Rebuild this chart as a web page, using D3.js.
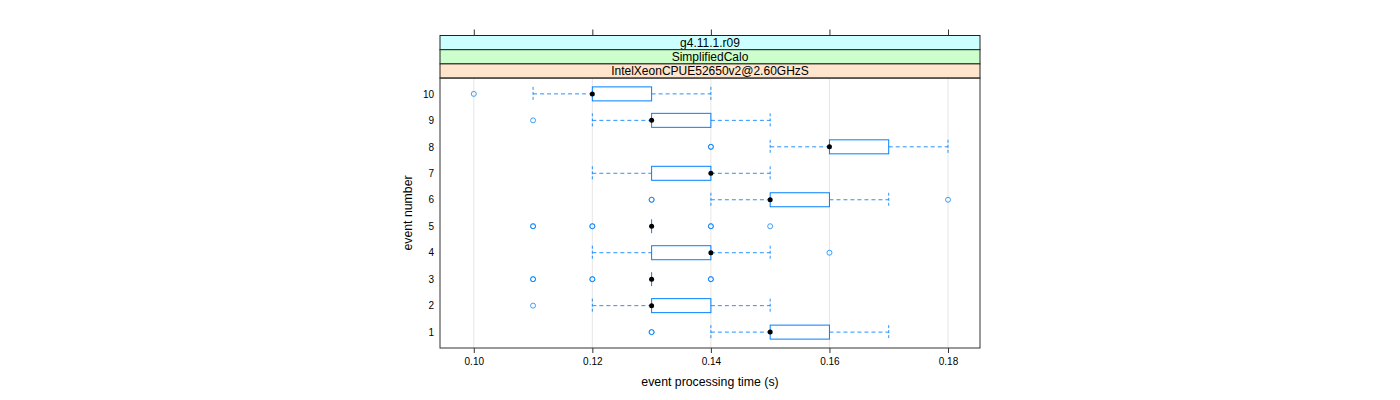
<!DOCTYPE html>
<html><head><meta charset="utf-8">
<script src="https://cdn.jsdelivr.net/npm/d3@7"></script>
<style>body{margin:0;background:#fff}svg{display:block}text{font-family:"Liberation Sans",Arial,sans-serif}</style>
</head><body><svg id="c" width="1400" height="400"></svg>
<script>
const events = [1,2,3,4,5,6,7,8,9,10];
const whiskLo = [0.14,0.12,0.13,0.12,0.13,0.14,0.12,0.15,0.12,0.11];
const q1      = [0.15,0.13,0.13,0.13,0.13,0.15,0.13,0.16,0.13,0.12];
const median  = [0.15,0.13,0.13,0.14,0.13,0.15,0.14,0.16,0.13,0.12];
const q3      = [0.16,0.14,0.13,0.14,0.13,0.16,0.14,0.17,0.14,0.13];
const whiskHi = [0.17,0.15,0.13,0.15,0.13,0.17,0.15,0.18,0.15,0.14];
const outliers = [[0.13,0.13],[0.11],[0.11,0.11,0.12,0.12,0.14,0.14],[0.16],[0.11,0.11,0.12,0.12,0.14,0.14,0.15],[0.13,0.13,0.18],[],[0.14,0.14],[0.11],[0.10]];
const xTicks = [0.10,0.12,0.14,0.16,0.18];
const strips = ["g4.11.1.r09","SimplifiedCalo","IntelXeonCPUE52650v2@2.60GHzS"];
const stripColors = ["#ccffff","#ccffcc","#ffe5cc"];

const svg = d3.select("#c");
const L=440,R=980,T=78,B=348;
const x = d3.scaleLinear().domain([0.0943,0.1854]).range([L,R]);
const y = d3.scaleLinear().domain([0.4,10.6]).range([B,T]);
const blue="#0080ff";
const bh=7;

// grid
svg.append("g").selectAll("line").data(xTicks).join("line")
 .attr("x1",d=>x(d)).attr("x2",d=>x(d)).attr("y1",T).attr("y2",B)
 .attr("stroke","#e6e6e6").attr("stroke-width",1);

// strips
const sh=14.2, st=35.5;
strips.forEach((s,i)=>{
  svg.append("rect").attr("x",L).attr("y",st+i*sh).attr("width",R-L).attr("height",sh)
   .attr("fill",stripColors[i]).attr("stroke","#222").attr("stroke-width",1);
  svg.append("text").attr("x",(L+R)/2).attr("y",st+i*sh+sh/2+4.3).attr("text-anchor","middle")
   .attr("font-size",12).attr("fill","#000").text(s);
});

// top & bottom axis ticks
const topAx = svg.append("g").attr("transform",`translate(0,${st})`)
 .call(d3.axisTop(x).tickValues(xTicks).tickSize(6).tickFormat(""));
topAx.select(".domain").remove();
topAx.selectAll("line").attr("stroke","#333");
const bot = svg.append("g").attr("transform",`translate(0,${B})`)
 .call(d3.axisBottom(x).tickValues(xTicks).tickSize(5).tickPadding(5).tickFormat(d3.format(".2f")));
bot.select(".domain").remove();
bot.selectAll("line").attr("stroke","#333");
bot.selectAll("text").attr("font-size",10).attr("fill","#000").attr("font-family","Liberation Sans, Arial, sans-serif");

// y labels
const yl = svg.append("g").attr("transform",`translate(${L},0)`)
 .call(d3.axisLeft(y).tickValues(events).tickSize(0).tickPadding(6).tickFormat(d3.format("d")));
yl.select(".domain").remove();
yl.selectAll("text").attr("font-size",10).attr("fill","#000").attr("font-family","Liberation Sans, Arial, sans-serif");

// boxes
const g = svg.append("g");
events.forEach((e,i)=>{
  const cy=y(e);
  const dash="4,3";
  const capDash="3,2";
  if (whiskLo[i]<q1[i]) {
    g.append("line").attr("x1",x(whiskLo[i])).attr("x2",x(q1[i])).attr("y1",cy).attr("y2",cy)
     .attr("stroke",blue).attr("stroke-dasharray",dash).attr("stroke-opacity",0.85);
    g.append("line").attr("x1",x(whiskLo[i])).attr("x2",x(whiskLo[i])).attr("y1",cy-bh).attr("y2",cy+bh)
     .attr("stroke",blue).attr("stroke-dasharray",capDash).attr("stroke-opacity",0.85);
  }
  if (whiskHi[i]>q3[i]) {
    g.append("line").attr("x1",x(q3[i])).attr("x2",x(whiskHi[i])).attr("y1",cy).attr("y2",cy)
     .attr("stroke",blue).attr("stroke-dasharray",dash).attr("stroke-opacity",0.85);
    g.append("line").attr("x1",x(whiskHi[i])).attr("x2",x(whiskHi[i])).attr("y1",cy-bh).attr("y2",cy+bh)
     .attr("stroke",blue).attr("stroke-dasharray",capDash).attr("stroke-opacity",0.85);
  }
  if (q3[i]>q1[i]) {
    g.append("rect").attr("x",x(q1[i])).attr("y",cy-bh).attr("width",x(q3[i])-x(q1[i])).attr("height",2*bh)
     .attr("fill","none").attr("stroke",blue).attr("stroke-width",1);
  } else {
    g.append("line").attr("x1",x(q1[i])).attr("x2",x(q1[i])).attr("y1",cy-bh).attr("y2",cy+bh)
     .attr("stroke",blue).attr("stroke-width",1);
  }
  outliers[i].forEach(v=>{
    g.append("circle").attr("cx",x(v)).attr("cy",cy).attr("r",2.5)
     .attr("fill","none").attr("stroke",blue).attr("stroke-width",1).attr("stroke-opacity",0.75);
  });
  g.append("circle").attr("cx",x(median[i])).attr("cy",cy).attr("r",2.5).attr("fill","#000");
});

// panel border
svg.append("rect").attr("x",L).attr("y",T).attr("width",R-L).attr("height",B-T)
 .attr("fill","none").attr("stroke","#333").attr("stroke-width",1);

// titles
svg.append("text").attr("x",(L+R)/2).attr("y",386).attr("text-anchor","middle").attr("font-size",12.3).text("event processing time (s)");
svg.append("text").attr("transform",`translate(412,${(T+B)/2}) rotate(-90)`).attr("text-anchor","middle").attr("font-size",12.3).text("event number");
</script></body></html>
